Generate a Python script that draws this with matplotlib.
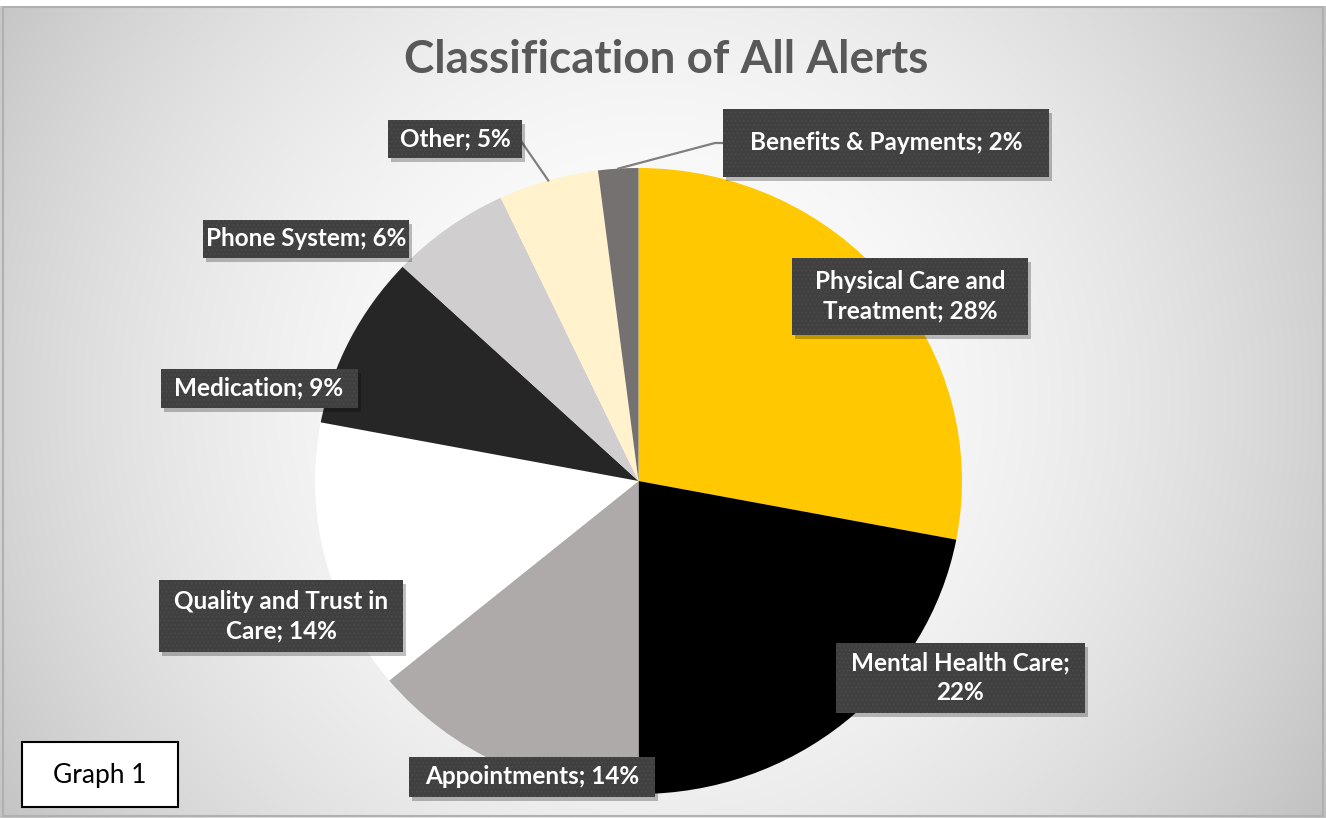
import numpy as np
import matplotlib
matplotlib.use("Agg")
import matplotlib.pyplot as plt
from matplotlib.patches import Rectangle
from matplotlib.lines import Line2D

# ---------------- data ----------------
categories = ["Physical Care and Treatment", "Mental Health Care", "Appointments",
              "Quality and Trust in Care", "Medication", "Phone System", "Other",
              "Benefits & Payments"]
values = [28, 22, 14, 14, 9, 6, 5, 2]
label_texts = ["Physical Care and\nTreatment; 28%", "Mental Health Care;\n22%",
               "Appointments; 14%", "Quality and Trust in\nCare; 14%",
               "Medication; 9%", "Phone System; 6%", "Other; 5%",
               "Benefits & Payments; 2%"]
colors = ["#FFC800", "#000000", "#AEAAAA", "#FFFFFF", "#262626", "#D0CECE",
          "#FFF2CC", "#767171"]
title = "Classification of All Alerts"

# ---------------- layout (pixels) ----------------
W, H = 1326, 818
fig = plt.figure(figsize=(W / 100, H / 100), dpi=100)

def fx(x):
    return x / W

def fy(y):
    return 1 - y / H

# background radial gradient
bg = fig.add_axes([0, 0, 1, 1])
yy, xx = np.mgrid[0:H, 0:W]
r = np.sqrt((xx - 650) ** 2 + (yy - 400) ** 2) / 790.0
val = 255 - 62 * np.clip(r, 0, 1.2) ** 1.9
img = np.dstack([val, val, val]) / 255.0
bg.imshow(img, extent=[0, W, H, 0], aspect="auto", interpolation="bilinear")
bg.set_xlim(0, W)
bg.set_ylim(H, 0)
bg.axis("off")
bg.add_patch(Rectangle((3, 7), W - 6, H - 9, fill=False, edgecolor="#b0b0b0", lw=1.5))
bg.add_patch(Rectangle((0, 0), W, 6, facecolor="white", edgecolor="none"))

# pie
cx, cy, rx, ry = 638.5, 481, 323.5, 313
ax = fig.add_axes([fx(cx - rx), fy(cy + ry), 2 * rx / W, 2 * ry / H])
ax.patch.set_alpha(0)
wedges, _ = ax.pie(values, colors=colors, startangle=90, counterclock=False,
                   radius=1.0, wedgeprops=dict(linewidth=0))
ax.set_aspect("auto")
ax.set_xlim(-1, 1)
ax.set_ylim(-1, 1)
ax.axis("off")

# title
fig.text(fx(666), fy(60), title, ha="center", va="center", fontsize=33,
         fontweight="bold", color="#595959", family="Lato")

# label boxes: center x, center y, box width, box height (pixels)
box_layout = [
    (910, 296, 236, 77),
    (960, 678, 249, 70),
    (532, 777, 246, 40),
    (281, 616, 244, 72),
    (259, 388, 197, 39),
    (306, 239, 206, 38),
    (455, 139, 134, 37),
    (886, 143, 326, 68),
]

def pie_point(i, frac=1.0):
    cum = np.cumsum([0] + values)
    total = float(sum(values))
    mid = (cum[i] + cum[i + 1]) / 2 / total
    ang = np.deg2rad(90 - 360 * mid)
    disp = ax.transData.transform((frac * np.cos(ang), frac * np.sin(ang)))
    return fig.transFigure.inverted().transform(disp)

# leader lines (Other, Benefits)
p_other = pie_point(6)
fig.add_artist(Line2D([fx(521), p_other[0]], [fy(141), p_other[1]],
                      color="#7f7f7f", lw=1.6, zorder=3))
p_ben = pie_point(7)
fig.add_artist(Line2D([fx(723), fx(715), p_ben[0]], [fy(143), fy(143), p_ben[1]],
                      color="#7f7f7f", lw=1.6, zorder=3))

plt.rcParams["hatch.color"] = "#4a4a4a"
plt.rcParams["hatch.linewidth"] = 0.8
for (bx, by, bw, bh), txt in zip(box_layout, label_texts):
    shadow = Rectangle((fx(bx - bw / 2 + 3), fy(by + bh / 2 + 4)), bw / W, bh / H,
                       transform=fig.transFigure, facecolor="black", alpha=0.25,
                       edgecolor="none", zorder=3.9)
    fig.add_artist(shadow)
    rect = Rectangle((fx(bx - bw / 2), fy(by + bh / 2)), bw / W, bh / H,
                     transform=fig.transFigure, facecolor="#404040",
                     hatch="....", zorder=4)
    fig.add_artist(rect)
    fig.text(fx(bx), fy(by), txt, ha="center", va="center", fontsize=17.5,
             fontweight="bold", color="white", family="Lato",
             linespacing=1.33, zorder=5)

# Graph 1 box
fig.add_artist(Rectangle((fx(22), fy(807)), 156 / W, 65 / H, transform=fig.transFigure,
                         facecolor="white", edgecolor="black", lw=1.5, zorder=4))
fig.text(fx(100), fy(775), "Graph 1", ha="center", va="center", fontsize=19,
         color="black", family="Lato", zorder=5)

fig.savefig("out.png", dpi=100)
